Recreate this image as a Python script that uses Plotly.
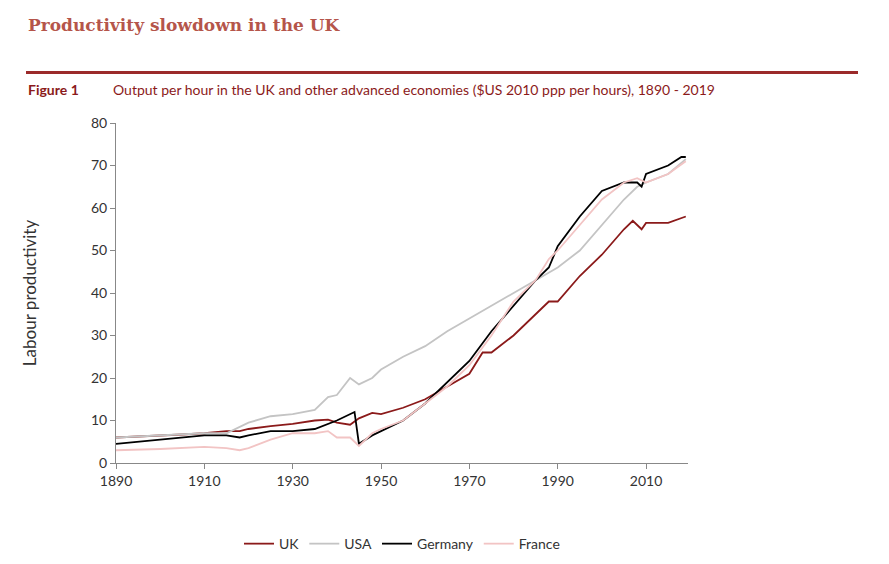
import plotly.graph_objects as go

uk_years = [1890, 1895, 1900, 1905, 1910, 1915, 1918, 1920, 1925, 1930, 1935, 1938, 1940, 1943, 1945,
            1948, 1950, 1955, 1960, 1965, 1970, 1973, 1975, 1980, 1985, 1988, 1990, 1995, 2000, 2005,
            2007, 2009, 2010, 2015, 2019]
uk_vals = [6, 6.2, 6.5, 6.7, 7, 7.5, 7.5, 8, 8.7, 9.2, 10, 10.2, 9.5, 9, 10.5,
           11.8, 11.5, 13, 15, 18, 21, 26, 26, 30, 35, 38, 38, 44, 49, 55,
           57, 55, 56.5, 56.5, 58]

usa_years = [1890, 1900, 1910, 1915, 1920, 1925, 1930, 1935, 1938, 1940, 1943, 1945, 1948, 1950, 1955,
             1960, 1965, 1970, 1975, 1980, 1985, 1990, 1995, 2000, 2005, 2008, 2010, 2015, 2019]
usa_vals = [6, 6.5, 7, 7, 9.5, 11, 11.5, 12.5, 15.5, 16, 20, 18.5, 20, 22, 25,
            27.5, 31, 34, 37, 40, 43, 46, 50, 56, 62, 65, 66, 68, 71.5]

ger_years = [1890, 1895, 1900, 1905, 1910, 1915, 1918, 1920, 1925, 1930, 1935, 1940, 1943, 1944, 1945,
             1948, 1950, 1955, 1960, 1965, 1970, 1975, 1980, 1985, 1988, 1990, 1995, 2000, 2005, 2008,
             2009, 2010, 2015, 2018, 2019]
ger_vals = [4.5, 5, 5.5, 6, 6.5, 6.5, 6, 6.5, 7.5, 7.5, 8, 10, 11.5, 12, 4.5,
            6.5, 7.5, 10, 14, 19, 24, 31, 37, 43, 46, 51, 58, 64, 66, 66,
            65, 68, 70, 72, 72]

fra_years = [1890, 1900, 1910, 1915, 1918, 1920, 1925, 1930, 1935, 1938, 1940, 1943, 1945, 1948, 1950,
             1955, 1960, 1965, 1970, 1975, 1980, 1985, 1988, 1990, 1995, 2000, 2005, 2008, 2010, 2015, 2019]
fra_vals = [3, 3.3, 3.8, 3.5, 3, 3.5, 5.5, 7, 7, 7.5, 6, 6, 4, 7, 8,
            10, 14, 18, 23, 30, 38, 43, 48, 50, 56, 62, 66, 67, 66, 68, 71]

red = '#b5554a'

# plot area in pixels
L, R, T, B = 108, 680, 115, 459


def px(x):
    return (x - L) / (R - L)


def py(y):
    return (B - y) / (B - T)


fig = go.Figure()
for name, xs, ys, col in [
    ('UK', uk_years, uk_vals, '#8b1a1a'),
    ('USA', usa_years, usa_vals, '#c4c4c4'),
    ('Germany', ger_years, ger_vals, '#000000'),
    ('France', fra_years, fra_vals, '#f2c4c4'),
]:
    fig.add_trace(go.Scatter(x=xs, y=ys, mode='lines', name=name, line=dict(color=col, width=1.8)))

fig.update_layout(
    width=889, height=564,
    paper_bgcolor='white', plot_bgcolor='white',
    margin=dict(l=L, r=889 - R, t=T, b=564 - B),
    font=dict(family='Lato', size=14, color='#333'),
    legend=dict(orientation='h', x=0.5, xanchor='center', y=py(541), yanchor='middle',
                font=dict(size=14, color='#333')),
    xaxis=dict(range=[1890, 2019.5], tickvals=[1890, 1910, 1930, 1950, 1970, 1990, 2010],
               showgrid=False, showline=True, linecolor='#888', ticks='outside', ticklen=5,
               tickcolor='#888', zeroline=False),
    yaxis=dict(range=[0, 80], dtick=10, showgrid=False, showline=True, linecolor='#888',
               ticks='outside', ticklen=5, tickcolor='#888', zeroline=False,
               title=dict(text='Labour productivity', standoff=50)),
    annotations=[
        dict(text='<b>Productivity slowdown in the UK</b>', x=px(18), y=py(16), xref='paper',
             yref='paper', xanchor='left', yanchor='middle', showarrow=False,
             font=dict(family='DejaVu Serif', size=17, color=red)),
        dict(text='<b>Figure 1</b>', x=px(18), y=py(81), xref='paper', yref='paper',
             xanchor='left', yanchor='middle', showarrow=False, font=dict(size=14, color='#8b1a1a')),
        dict(text='Output per hour in the UK and other advanced economies ($US 2010 ppp per hours), 1890 - 2019',
             x=px(103), y=py(81), xref='paper', yref='paper', xanchor='left', yanchor='middle',
             showarrow=False, font=dict(size=14, color='#8b1a1a')),
    ],
    shapes=[dict(type='line', xref='paper', yref='paper', x0=px(18), x1=px(850),
                 y0=py(64), y1=py(64), line=dict(color='#9b2a2a', width=3))],
)

fig.write_html('out.html')
